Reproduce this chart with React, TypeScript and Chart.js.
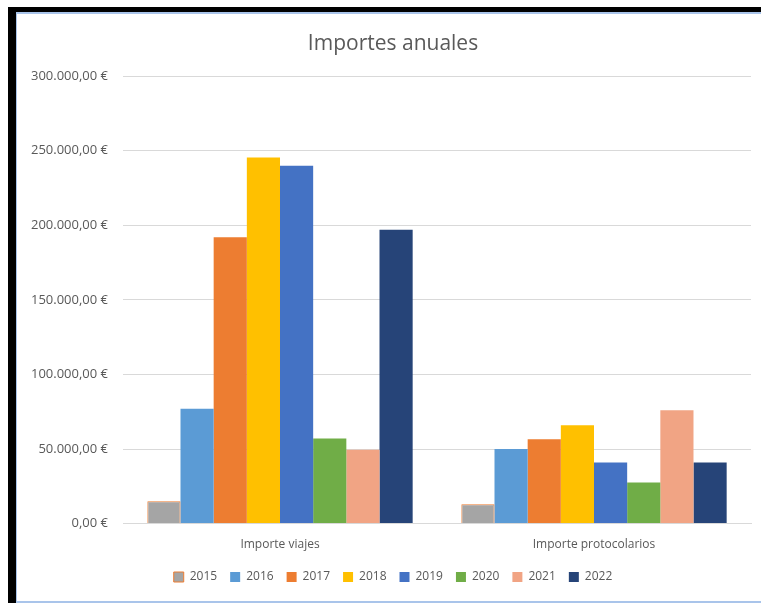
import React, { useEffect, useRef } from "react";
import { Chart, registerables } from "chart.js";

Chart.register(...registerables);

const categories = ["Importe viajes", "Importe protocolarios"];
const years = ["2015", "2016", "2017", "2018", "2019", "2020", "2021", "2022"];
const values2015 = [15000, 13000];
const values2016 = [77000, 50000];
const values2017 = [192000, 56500];
const values2018 = [245500, 66000];
const values2019 = [240000, 41000];
const values2020 = [57000, 27500];
const values2021 = [49500, 76000];
const values2022 = [197000, 41000];
const seriesValues = [values2015, values2016, values2017, values2018, values2019, values2020, values2021, values2022];
const seriesColors = ["#a5a5a5", "#5b9bd5", "#ed7d31", "#ffc000", "#4472c4", "#70ad47", "#f1a484", "#264478"];
const yTicks = [0, 50000, 100000, 150000, 200000, 250000, 300000];

function formatEuro(v: number): string {
  const s = Math.round(v).toString().replace(/\B(?=(\d{3})+(?!\d))/g, ".");
  return s + ",00 €";
}

export default function App() {
  const ref = useRef<HTMLCanvasElement | null>(null);
  useEffect(() => {
    if (!ref.current) return;
    const font = "'Open Sans', 'Liberation Sans', sans-serif";
    const chart = new Chart(ref.current, {
      type: "bar",
      data: {
        labels: categories,
        datasets: years.map((y, i) => ({
          label: y,
          data: seriesValues[i],
          backgroundColor: seriesColors[i],
          borderColor: i === 0 ? "#ed7d31" : seriesColors[i],
          borderWidth: i === 0 ? 1 : 0,
          barPercentage: 1,
          categoryPercentage: 0.845,
        })),
      },
      options: {
        animation: false,
        responsive: true,
        maintainAspectRatio: false,
        layout: { padding: { left: 18, right: 10, top: 0, bottom: 8 } },
        plugins: {
          title: {
            display: true,
            text: "Importes anuales",
            color: "#595959",
            font: { family: font, size: 21, weight: "normal" },
            padding: { top: 17, bottom: 20 },
          },
          legend: {
            position: "bottom",
            labels: {
              color: "#595959",
              font: { family: font, size: 12 },
              boxWidth: 10,
              boxHeight: 10,
              padding: 13,
            },
          },
          tooltip: { enabled: false },
        },
        scales: {
          x: {
            grid: { display: false },
            border: { display: true, color: "#d9d9d9" },
            ticks: { color: "#595959", font: { family: font, size: 12 }, padding: 6 },
          },
          y: {
            min: 0,
            max: 300000,
            afterBuildTicks: (axis: any) => {
              axis.ticks = yTicks.map((v) => ({ value: v }));
            },
            afterFit: (axis: any) => {
              axis.width = 88;
              axis._computeLabelArea = () => undefined;
            },
            grid: { color: "#d9d9d9", drawTicks: false },
            border: { display: false },
            ticks: {
              color: "#595959",
              font: { family: font, size: 13 },
              padding: 15,
              callback: (v: any) => formatEuro(Number(v)),
            },
          },
        },
      },
    });
    return () => chart.destroy();
  }, []);

  return (
    <div
      style={{
        position: "fixed",
        left: 8,
        top: 7,
        width: 753,
        height: 596,
        borderTop: "5px solid #000",
        borderLeft: "8px solid #000",
        boxSizing: "border-box",
        background: "#fff",
      }}
    >
      <div
        style={{
          position: "absolute",
          left: 0,
          top: 0,
          right: 0,
          bottom: 0,
          borderTop: "2px solid #a9c4ea",
          borderLeft: "1px solid #a9c4ea",
          borderBottom: "2px solid #a9c4ea",
          boxSizing: "border-box",
        }}
      >
        <div style={{ position: "absolute", left: 0, top: 0, right: 0, bottom: 0 }}>
          <canvas ref={ref} />
        </div>
      </div>
    </div>
  );
}
